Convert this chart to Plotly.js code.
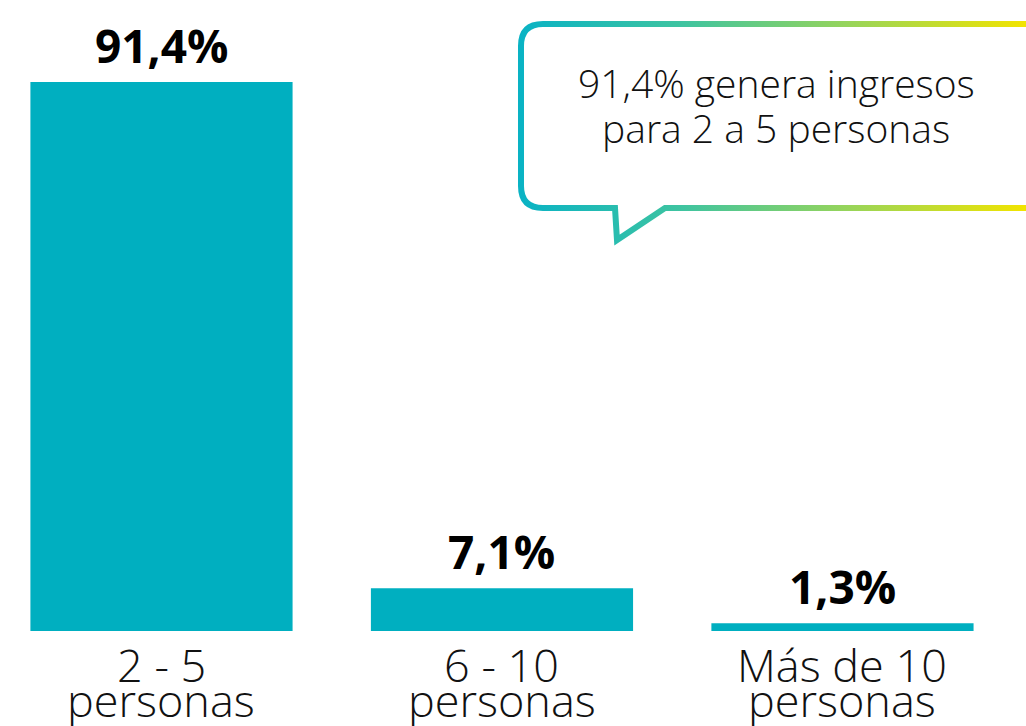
<!DOCTYPE html>
<html>
<head>
<meta charset="utf-8">
<script src="https://cdn.plot.ly/plotly-3.0.1.min.js"></script>
<style>
  html, body { margin: 0; padding: 0; background: #ffffff; }
  #chart { width: 1026px; height: 726px; }
</style>
</head>
<body>
<div id="chart"></div>
<script>
// ---- data ----
const categories = ['2 - 5<br>personas', '6 - 10<br>personas', 'Más de 10<br>personas'];
const values = [91.4, 7.1, 1.3];
const valueLabels = ['91,4%', '7,1%', '1,3%'];
const calloutLines = ['91,4% genera ingresos', 'para 2 a 5 personas'];

// ---- style ----
const barColor = '#00AFC0';
const W = 1026, H = 726, plotBottom = 631;
const FAM = '"Open Sans", Lato, sans-serif';
const lightFont = { family: FAM, size: 45, color: '#111111', weight: 300 };
const boldFont = { family: FAM, size: 46, color: '#000000', weight: 700 };

// helpers converting pixel positions (decorations only) to paper fractions
const px = x => x / W;
const py = y => 1 - y / plotBottom;

const annotations = [];

// value labels above bars
categories.forEach((c, i) => {
  annotations.push({
    x: c, y: values[i], xref: 'x', yref: 'y',
    text: valueLabels[i], showarrow: false,
    xanchor: 'center', yanchor: 'bottom', yshift: 4,
    font: boldFont
  });
});

// category labels, one annotation per line for tight line spacing
const lineShift = [-1, -36];
categories.forEach(c => {
  c.split('<br>').forEach((line, j) => {
    annotations.push({
      x: c, y: 0, xref: 'x', yref: 'y',
      text: line, showarrow: false,
      xanchor: 'center', yanchor: 'top', yshift: lineShift[j],
      font: lightFont
    });
  });
});

// callout text
const calloutTop = [54, 99];
calloutLines.forEach((line, j) => {
  annotations.push({
    x: px(776), y: py(calloutTop[j]), xref: 'paper', yref: 'paper',
    text: line, showarrow: false,
    xanchor: 'center', yanchor: 'top',
    font: { family: FAM, size: 39, color: '#111111', weight: 300 }
  });
});

// speech bubble path (decoration)
function P(x, y) { return px(x).toFixed(5) + ',' + py(y).toFixed(5); }
const bubblePath =
  'M' + P(1060, 24) +
  ' L' + P(543, 24) +
  ' Q' + P(521, 24) + ' ' + P(521, 46) +
  ' L' + P(521, 186) +
  ' Q' + P(521, 208) + ' ' + P(543, 208) +
  ' L' + P(615, 208) +
  ' L' + P(617, 240) +
  ' L' + P(665, 208) +
  ' L' + P(1060, 208);

const trace = {
  type: 'bar',
  x: categories,
  y: values,
  marker: { color: barColor },
  width: 0.77,
  hoverinfo: 'skip'
};

const layout = {
  width: W, height: H,
  margin: { l: 0, r: 0, t: 0, b: H - plotBottom, pad: 0 },
  paper_bgcolor: '#ffffff',
  plot_bgcolor: '#ffffff',
  showlegend: false,
  xaxis: {
    type: 'category',
    range: [-0.4743, 2.539],
    showticklabels: false, showgrid: false, zeroline: false, showline: false, ticks: ''
  },
  yaxis: {
    range: [0, 105.04],
    showticklabels: false, showgrid: false, zeroline: false, showline: false, ticks: ''
  },
  shapes: [{
    type: 'path', xref: 'paper', yref: 'paper',
    path: bubblePath,
    line: { color: '#4EC79A', width: 6 },
    fillcolor: 'rgba(0,0,0,0)',
    layer: 'above'
  }],
  annotations: annotations
};

Plotly.newPlot('chart', [trace], layout, { staticPlot: true, displayModeBar: false }).then(gd => {
  // apply teal-to-yellow gradient stroke to the bubble
  const svg = gd.querySelector('svg.main-svg');
  const NS = 'http://www.w3.org/2000/svg';
  let defs = svg.querySelector('defs');
  if (!defs) { defs = document.createElementNS(NS, 'defs'); svg.insertBefore(defs, svg.firstChild); }
  const grad = document.createElementNS(NS, 'linearGradient');
  grad.setAttribute('id', 'bubbleGrad');
  grad.setAttribute('x1', '0'); grad.setAttribute('y1', '0');
  grad.setAttribute('x2', '1'); grad.setAttribute('y2', '0');
  [['0', '#0AB3C4'], ['0.3', '#3FC4A0'], ['0.6', '#95D45C'], ['0.937', '#F2E400'], ['1', '#F2E400']].forEach(([o, c]) => {
    const s = document.createElementNS(NS, 'stop');
    s.setAttribute('offset', o); s.setAttribute('stop-color', c);
    grad.appendChild(s);
  });
  defs.appendChild(grad);
  gd.querySelectorAll('.shapelayer path').forEach(p => { p.style.stroke = 'url(#bubbleGrad)'; });
});
</script>
</body>
</html>
